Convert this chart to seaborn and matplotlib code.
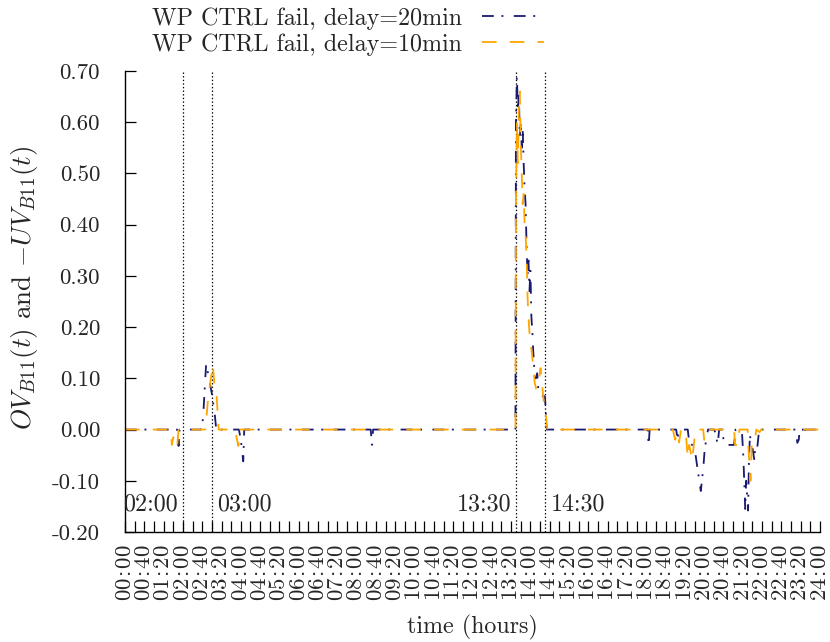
import numpy as np
import matplotlib
matplotlib.use("Agg")
import matplotlib.pyplot as plt
import seaborn as sns

# ---- series: (minute of day, value) nodes, zero elsewhere ----
t_delay20 = [0, 108, 111, 113, 157, 160, 162, 164, 166, 168, 172, 175, 180, 183, 186, 189,
             236, 240, 245, 247, 509, 512, 514,
             809, 810, 812, 814, 816, 818, 820, 822, 824, 826, 828, 830, 831, 832, 834, 836,
             838, 840, 842, 844, 846, 848, 851, 854, 857, 860, 870, 874,
             1083, 1085, 1087, 1142, 1145, 1147,
             1166, 1169, 1175, 1180, 1183, 1186, 1190, 1193, 1197, 1199, 1201, 1205, 1208,
             1221, 1224, 1228, 1231, 1238, 1241, 1262, 1265,
             1278, 1281, 1283, 1284, 1285, 1287, 1289, 1291, 1293, 1295, 1297, 1300, 1304,
             1306, 1310, 1314, 1390, 1393, 1396, 1398, 1405, 1407, 1409, 1440]
v_delay20 = [0, 0, -0.032, 0, 0, 0.01, 0.026, 0.06, 0.094, 0.127, 0.11, 0.094, 0.07, 0.05, 0.03, 0,
             0, -0.02, -0.062, 0, 0, -0.03, 0,
             0, 0.60, 0.69, 0.62, 0.66, 0.57, 0.60, 0.55, 0.59, 0.52, 0.47, 0.44, 0.40, 0.36, 0.30, 0.33,
             0.27, 0.31, 0.22, 0.19, 0.15, 0.12, 0.10, 0.11, 0.07, 0.065, 0.065, 0,
             0, -0.032, 0, 0, -0.02, 0,
             0, -0.025, -0.03, -0.035, -0.055, -0.075, -0.10, -0.12, -0.085, -0.065, -0.04, -0.015, 0,
             0, -0.01, -0.03, 0, 0, -0.03, -0.03, 0,
             0, -0.05, -0.10, -0.125, -0.155, -0.10, -0.13, -0.158, -0.05, -0.01, -0.03, -0.035, -0.06,
             -0.03, -0.035, 0, 0, -0.026, -0.02, 0, 0, -0.012, 0, 0]

t_delay10 = [0, 95, 97, 100, 104, 108, 111, 166, 169, 172, 175, 178, 182, 185, 189, 194,
             228, 231, 235, 237,
             809, 810, 812, 814, 816, 818, 820, 822, 824, 826, 828, 830, 832, 834, 836, 838, 840,
             843, 846, 849, 852, 855, 858, 861, 864, 867, 870, 873, 875,
             1135, 1140, 1144, 1148, 1152, 1160, 1163, 1166, 1169, 1172, 1175, 1178, 1182,
             1198, 1200, 1205, 1208, 1262, 1264, 1270, 1273,
             1290, 1292, 1296, 1299, 1305, 1308, 1315, 1318, 1440]
v_delay10 = [0, 0, -0.03, -0.015, -0.02, -0.035, 0, 0, 0.026, 0.06, 0.08, 0.10, 0.127, 0.09, 0.078, 0,
             0, -0.015, -0.032, 0,
             0, 0.45, 0.60, 0.52, 0.62, 0.66, 0.56, 0.50, 0.44, 0.46, 0.40, 0.38, 0.34, 0.26, 0.22, 0.19, 0.17,
             0.15, 0.12, 0.09, 0.08, 0.08, 0.10, 0.12, 0.09, 0.06, 0.04, 0.02, 0,
             0, -0.02, -0.005, -0.025, 0, 0, -0.02, -0.055, -0.03, -0.045, -0.06, -0.035, 0,
             0, -0.02, -0.02, 0, 0, -0.03, -0.03, 0,
             0, -0.04, -0.10, -0.02, -0.02, 0, -0.005, 0, 0]

series_labels = ["WP CTRL fail, delay=20min", "WP CTRL fail, delay=10min"]

# ---- event markers ----
event_hours = [2.0, 3.0, 13.5, 14.5]
event_labels = ["02:00", "03:00", "13:30", "14:30"]
event_sides = ["left", "right", "left", "right"]

# ---- axis ticks ----
y_ticks = [-0.2, -0.1, 0.0, 0.1, 0.2, 0.3, 0.4, 0.5, 0.6, 0.7]
y_tick_labels = ["-0.20", "-0.10", "0.00", "0.10", "0.20", "0.30", "0.40", "0.50", "0.60", "0.70"]
x_tick_labels = ["00:00", "00:40", "01:20", "02:00", "02:40", "03:20", "04:00", "04:40", "05:20",
                 "06:00", "06:40", "07:20", "08:00", "08:40", "09:20", "10:00", "10:40", "11:20",
                 "12:00", "12:40", "13:20", "14:00", "14:40", "15:20", "16:00", "16:40", "17:20",
                 "18:00", "18:40", "19:20", "20:00", "20:40", "21:20", "22:00", "22:40", "23:20",
                 "24:00"]

sns.set_style("ticks")
plt.rcParams.update({
    "font.family": ["cmr10", "DejaVu Serif"],
    "mathtext.fontset": "cm",
    "axes.unicode_minus": False,
    "axes.formatter.use_mathtext": True,
    "lines.scale_dashes": False,
    "font.size": 17.3,
})

fig = plt.figure(figsize=(8.30, 6.42), dpi=100)
ax = fig.add_axes([125 / 830, 1 - 532 / 642, (820 - 125) / 830, (532 - 71) / 642])

navy = "#191970"
orange = "#FFA500"

sns.lineplot(x=np.array(t_delay20) / 60.0, y=v_delay20, estimator=None, sort=False,
             color=navy, lw=1.3, ax=ax)
line20 = ax.lines[-1]
line20.set_dashes((8.5, 5.5, 1.4, 7.5))

sns.lineplot(x=np.array(t_delay10) / 60.0, y=v_delay10, estimator=None, sort=False,
             color=orange, lw=1.3, ax=ax)
line10 = ax.lines[-1]
line10.set_dashes((10.5, 9.5))

ax.set_xlim(0, 24)
ax.set_ylim(-0.2, 0.7)

# vertical event lines and their labels
for h, lab, side in zip(event_hours, event_labels, event_sides):
    ax.axvline(h, color="black", lw=0.9, linestyle=(0, (1, 1.6)), zorder=1)
    dx = -3.5 if side == "left" else 4
    ax.annotate(lab, xy=(h, -0.146), xycoords="data", xytext=(dx, 0),
                textcoords="offset points", ha="right" if side == "left" else "left",
                va="center")


def spaced_time(s):
    """Time label with a little extra room around the colon."""
    hh, mm = s.split(":")
    return r"$\text{%s}\hspace{0.09}\text{:}\hspace{0.09}\text{%s}$" % (hh, mm)


ax.set_yticks(y_ticks)
ax.set_yticklabels(y_tick_labels, fontsize=16.5)
major_x = np.arange(0, 24.01, 40 / 60)
minor_x = np.arange(20 / 60, 24, 40 / 60)
ax.set_xticks(major_x)
ax.set_xticklabels([spaced_time(s) for s in x_tick_labels], rotation=90, fontsize=16.5)
ax.set_xticks(minor_x, minor=True)

ax.tick_params(axis="both", which="both", direction="in", length=8, width=0.9,
               color="black")
ax.tick_params(axis="x", which="both", pad=9)
ax.tick_params(axis="y", pad=18)

for side in ["top", "right"]:
    ax.spines[side].set_visible(False)
for side in ["left", "bottom"]:
    ax.spines[side].set_linewidth(1.0)
    ax.spines[side].set_color("black")

ax.set_xlabel("time (hours)", labelpad=10)
ax.set_ylabel(r"$OV_{B11}(t)$ and $-UV_{B11}(t)$", fontsize=19.5)
ax.yaxis.set_label_coords((40 - 125) / 695, (532 - 288) / 461)

ax.legend([line20, line10], series_labels, loc="center", frameon=False,
          bbox_to_anchor=(348 / 830, 1 - 31.5 / 642), bbox_transform=fig.transFigure,
          markerfirst=False, handlelength=2.6, handletextpad=0.85, labelspacing=0.15,
          borderpad=0, borderaxespad=0)

fig.savefig("out.png", dpi=100)
